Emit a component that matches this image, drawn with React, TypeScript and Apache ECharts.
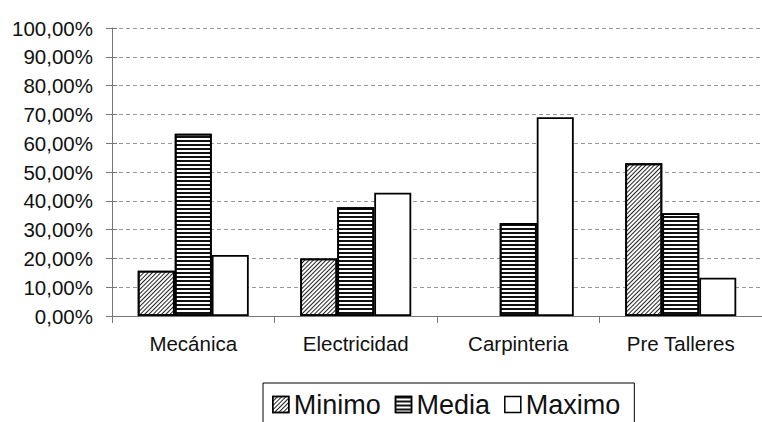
import React, { useEffect, useRef } from "react";
import * as echarts from "echarts";

const categories = ["Mecánica", "Electricidad", "Carpinteria", "Pre Talleres"];
const minimo: (number | null)[] = [15.7, 20.0, null, 53.0];
const media: (number | null)[] = [63.3, 37.8, 32.3, 35.7];
const maximo: (number | null)[] = [21.2, 42.8, 69.0, 13.3];
const seriesNames = ["Minimo", "Media", "Maximo"];

const FONT = "Liberation Sans";

export default function App() {
  const ref = useRef<HTMLDivElement>(null);
  useEffect(() => {
    if (!ref.current) return;
    const chart = echarts.init(ref.current, null, { renderer: "svg" });
    const fmt = (v: number) => v.toFixed(2).replace(".", ",") + "%";
    const border = { borderColor: "#000", borderWidth: 1.8 };
    chart.setOption({
      animation: false,
      backgroundColor: "#fff",
      grid: { left: 112, top: 28, width: 660, bottom: 106 },
      legend: {
        left: 263,
        top: 383,
        orient: "horizontal",
        data: seriesNames,
        icon: "rect",
        itemWidth: 16,
        itemHeight: 16,
        itemGap: 14,
        borderColor: "#000",
        borderWidth: 1,
        padding: [8, 14, 8, 9],
        backgroundColor: "#fff",
        textStyle: { fontFamily: FONT, fontSize: 27, color: "#111" },
        itemStyle: { borderColor: "#000", borderWidth: 1.5 },
      },
      xAxis: {
        type: "category",
        data: categories,
        axisLine: { lineStyle: { color: "#777", width: 1 } },
        axisTick: { show: true, length: 7, lineStyle: { color: "#777" } },
        axisLabel: { fontFamily: FONT, fontSize: 20.5, color: "#111", margin: 17 },
      },
      yAxis: [
        {
          type: "value",
          min: 0,
          max: 100,
          interval: 10,
          axisLine: { show: true, lineStyle: { color: "#777", width: 1 } },
          axisTick: { show: true, length: 6, lineStyle: { color: "#777" } },
          axisLabel: {
            fontFamily: FONT,
            fontSize: 20.5,
            color: "#111",
            margin: 19,
            formatter: fmt,
          },
          splitLine: {
            show: true,
            lineStyle: { color: "#999", type: [4, 3], width: 1 },
          },
        },
        {
          type: "value",
          position: "left",
          min: 0,
          max: 100,
          interval: 10,
          axisLine: { show: false },
          axisTick: { show: true, inside: true, length: 5, lineStyle: { color: "#777" } },
          axisLabel: { show: false },
          splitLine: { show: false },
        },
      ],
      series: [
        {
          name: "Minimo",
          type: "bar",
          data: minimo,
          barWidth: 37,
          barGap: "0%",
          itemStyle: {
            color: "#fff",
            ...border,
            decal: {
              symbol: "rect",
              symbolSize: 1,
              dashArrayX: [1, 0],
              dashArrayY: [1, 1.3],
              rotation: -Math.PI / 4,
              color: "#222",
            },
          },
        },
        {
          name: "Media",
          type: "bar",
          data: media,
          barWidth: 37,
          barGap: "0%",
          itemStyle: {
            color: "#fff",
            ...border,
            decal: {
              symbol: "rect",
              symbolSize: 1,
              dashArrayX: [1, 0],
              dashArrayY: [1.5, 1.5],
              rotation: 0,
              color: "#111",
            },
          },
        },
        {
          name: "Maximo",
          type: "bar",
          data: maximo,
          barWidth: 37,
          barGap: "0%",
          itemStyle: { color: "#fff", ...border },
        },
      ],
    });
    return () => chart.dispose();
  }, []);
  return (
    <div
      ref={ref}
      style={{ position: "fixed", left: 0, top: 0, width: 762, height: 422 }}
    />
  );
}
